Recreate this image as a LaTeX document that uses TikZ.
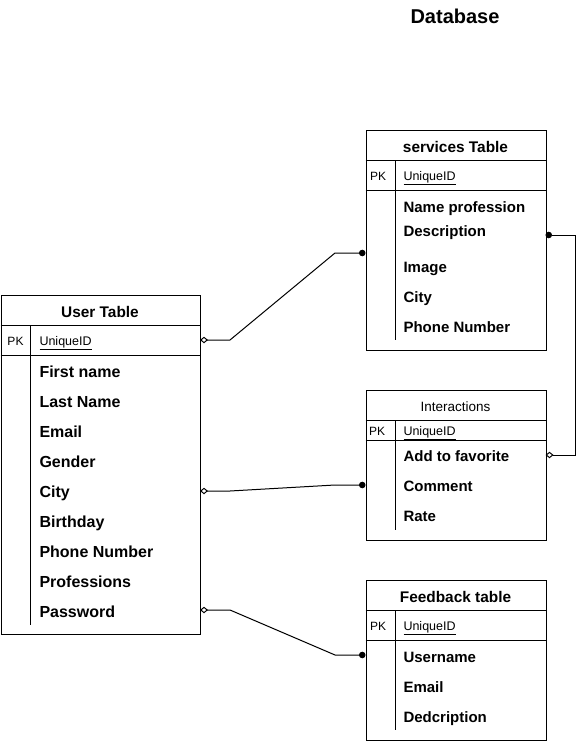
\documentclass[tikz,border=0pt]{standalone}
\usepackage{fontspec}
\setmainfont{Liberation Sans}
\usetikzlibrary{arrows.meta}
\begin{document}
\begin{tikzpicture}[x=1pt,y=-1pt, line width=1pt,
  tbox/.style={draw, anchor=north west, inner sep=0pt},
  ttl/.style={font=\fontsize{20}{24}\selectfont\bfseries, anchor=base, inner sep=0pt},
  hdr/.style={font=\fontsize{15.4}{18}\selectfont\bfseries, anchor=base, inner sep=0pt},
  ihdr/.style={font=\fontsize{13.5}{16}\selectfont, anchor=base, inner sep=0pt},
  fld/.style={font=\fontsize{15}{18}\selectfont\bfseries, anchor=base west, inner sep=0pt},
  ufld/.style={font=\fontsize{16}{19}\selectfont\bfseries, anchor=base west, inner sep=0pt},
  pk/.style={font=\fontsize{12}{14}\selectfont, anchor=base, inner sep=0pt},
  uid/.style={font=\fontsize{12.5}{14}\selectfont, anchor=base west, inner sep=0pt},
  rel/.style={line width=1pt, {Diamond[open,length=8pt,width=6.5pt]}-{Circle[length=6.5pt]}},
]
\useasboundingbox (0,0) rectangle (585,741);
\fill[white] (0,0) rectangle (585,741);

\node[ttl] (title) at (455,23.5) {Database};

% ---------- User Table ----------
\node[tbox, minimum width=199.5pt, minimum height=339pt] (user) at (0.5,295) {};
\draw (0.5,325) -- (200,325);
\draw (0.5,355) -- (200,355);
\draw (30.5,325) -- (30.5,625);
\node[hdr] (uhdr) at (100,317) {User Table};
\node[pk] (upk) at (15.5,345) {PK};
\node[uid] (uid) at (39,345) {\underline{UniqueID}};
\node[ufld] (u1) at (39,377) {First name};
\node[ufld] (u2) at (39,407) {Last Name};
\node[ufld] (u3) at (39,437) {Email};
\node[ufld] (u4) at (39,467) {Gender};
\node[ufld] (u5) at (39,497) {City};
\node[ufld] (u6) at (39,527) {Birthday};
\node[ufld] (u7) at (39,557) {Phone Number};
\node[ufld] (u8) at (39,587) {Professions};
\node[ufld] (u9) at (39,617) {Password};

% ---------- services Table ----------
\node[tbox, minimum width=180pt, minimum height=220pt] (serv) at (365.5,130) {};
\draw (365.5,160) -- (545.5,160);
\draw (365.5,190) -- (545.5,190);
\draw (395.5,160) -- (395.5,340);
\node[hdr] (shdr) at (455.5,152) {services Table};
\node[pk] (spk) at (378,180) {PK};
\node[uid] (sid) at (403,180) {\underline{UniqueID}};
\node[fld] (s1) at (403,212) {Name profession};
\node[fld] (s2) at (403,236) {Description};
\node[fld] (s3) at (403,272) {Image};
\node[fld] (s4) at (403,302) {City};
\node[fld] (s5) at (403,332) {Phone Number};

% ---------- Interactions ----------
\node[tbox, minimum width=180pt, minimum height=150pt] (inter) at (365.5,390) {};
\draw (365.5,420) -- (545.5,420);
\draw (365.5,440) -- (545.5,440);
\draw (395.5,420) -- (395.5,530);
\node[ihdr] (ihdr) at (455.5,411) {Interactions};
\node[pk] (ipk) at (377,435.5) {PK};
\node[uid] (iid) at (403,435.5) {\underline{UniqueID}};
\node[fld] (i1) at (403,461.5) {Add to favorite};
\node[fld] (i2) at (403,491.5) {Comment};
\node[fld] (i3) at (403,521.5) {Rate};

% ---------- Feedback table ----------
\node[tbox, minimum width=180pt, minimum height=160pt] (feed) at (365.5,580) {};
\draw (365.5,610) -- (545.5,610);
\draw (365.5,640) -- (545.5,640);
\draw (395.5,610) -- (395.5,730);
\node[hdr] (fhdr) at (455.5,602) {Feedback table};
\node[pk] (fpk) at (378,630) {PK};
\node[uid] (fid) at (403,630) {\underline{UniqueID}};
\node[fld] (f1) at (403,662) {Username};
\node[fld] (f2) at (403,692) {Email};
\node[fld] (f3) at (403,722) {Dedcription};

% ---------- connector ends ----------
\coordinate (uA) at (200,340);
\coordinate (uB) at (200,491);
\coordinate (uC) at (200,610);
\coordinate (sL) at (365.5,253);
\coordinate (sR) at (545.5,235);
\coordinate (iR) at (545.5,455);
\coordinate (iL) at (365.5,485);
\coordinate (fL) at (365.5,655);

\draw[rel] (uA) -- (230,340) -- (335,253) -- (sL);
\draw[rel] (iR) -- (575,455) -- (575,235) -- (sR);
\draw[rel] (uB) -- (230,491) -- (335,485) -- (iL);
\draw[rel] (uC) -- (230,610) -- (335,655) -- (fL);
\end{tikzpicture}
\end{document}
